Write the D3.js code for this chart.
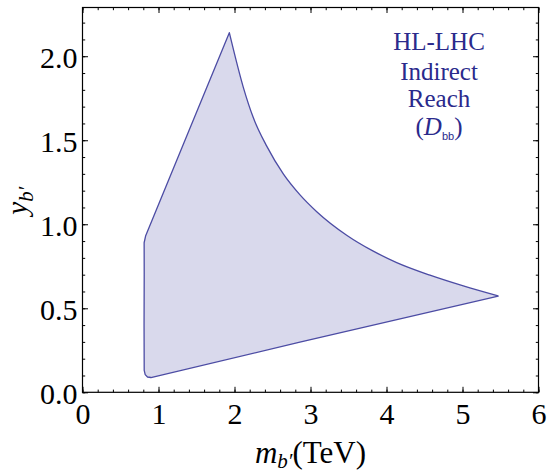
<!DOCTYPE html>
<html>
<head>
<meta charset="utf-8">
<script src="https://cdn.jsdelivr.net/npm/d3@7"></script>
<style>
  body { margin: 0; background: #fff; }
  text { font-family: "Liberation Serif", "Times New Roman", serif; }
</style>
</head>
<body>
<script>
// frame of the plot (pixels inside the 549x474 window)
var margin = {top: 7.5, right: 10.5, bottom: 81.7, left: 82.5},
    width = 549 - margin.left - margin.right,
    height = 474 - margin.top - margin.bottom;

// tick values
var xMajor = [0, 1, 2, 3, 4, 5, 6];
var xMinor = d3.range(0, 6.01, 0.2);
var yMajor = [0, 0.5, 1.0, 1.5, 2.0];
var yMinor = d3.range(0, 2.291, 0.1);

// boundary of the reach region
// lower edge: from the tip at the right to the lower left corner
var lowerEdge = [
  [5.47, 0.573], [2.86, 0.298], [0.90, 0.088], [0.855, 0.091],
  [0.825, 0.105], [0.812, 0.13]
];
// left edge: up the vertical side and the slanted side to the peak
var leftEdge = [
  [0.810, 0.40], [0.812, 0.70], [0.811, 0.89], [0.83, 0.93],
  [1.40, 1.556], [1.932, 2.140]
];
// upper edge: from the peak down to the tip
var upperEdge = [
  [1.932, 2.140], [2.116, 1.815], [2.247, 1.635], [2.424, 1.465],
  [2.642, 1.300], [2.862, 1.175], [3.082, 1.075], [3.476, 0.935],
  [3.826, 0.840], [4.134, 0.772], [4.572, 0.697], [5.011, 0.633],
  [5.47, 0.573]
];

var labelLines = ["HL-LHC", "Indirect", "Reach"];

var x = d3.scaleLinear().domain([0, 6]).range([0, width]);
var y = d3.scaleLinear().domain([0, 2.29]).range([height, 0]);

var svg = d3.select("body").append("svg")
    .attr("width", 549)
    .attr("height", 474)
  .append("g")
    .attr("transform", "translate(" + margin.left + "," + margin.top + ")");

// region
var straight = d3.line()
    .x(function(d) { return x(d[0]); })
    .y(function(d) { return y(d[1]); });
var smooth = d3.line()
    .curve(d3.curveMonotoneX)
    .x(function(d) { return x(d[0]); })
    .y(function(d) { return y(d[1]); });

var d = straight(lowerEdge.concat(leftEdge)) + smooth(upperEdge).replace(/^M/, "L") + "Z";

svg.append("path")
    .attr("d", d)
    .attr("fill", "#d9d9ec")
    .attr("stroke", "#4c4ca4")
    .attr("stroke-width", 1.3)
    .attr("stroke-linejoin", "round");

// axes with inward ticks
function styleAxis(g) {
  g.select(".domain").remove();
  g.selectAll(".tick line").attr("stroke", "#000");
}

svg.append("g")
    .attr("transform", "translate(0," + height + ")")
    .call(d3.axisBottom(x).tickValues(xMinor).tickSize(-2.7).tickFormat(""))
    .call(styleAxis);
svg.append("g")
    .attr("transform", "translate(0," + height + ")")
    .call(d3.axisBottom(x).tickValues(xMajor).tickSize(-5.5).tickPadding(10)
      .tickFormat(d3.format("d")))
    .call(styleAxis)
    .selectAll("text")
      .attr("font-size", "30px")
      .attr("font-family", "Liberation Serif")
      .attr("fill", "#000");

svg.append("g")
    .call(d3.axisTop(x).tickValues(xMinor).tickSize(-2.7).tickFormat(""))
    .call(styleAxis);
svg.append("g")
    .call(d3.axisTop(x).tickValues(xMajor).tickSize(-5.5).tickFormat(""))
    .call(styleAxis);

svg.append("g")
    .call(d3.axisLeft(y).tickValues(yMinor).tickSize(-2.7).tickFormat(""))
    .call(styleAxis);
svg.append("g")
    .call(d3.axisLeft(y).tickValues(yMajor).tickSize(-5.5).tickPadding(5)
      .tickFormat(d3.format(".1f")))
    .call(styleAxis)
    .selectAll("text")
      .attr("font-size", "30px")
      .attr("font-family", "Liberation Serif")
      .attr("fill", "#000")
      .attr("dy", "0.36em");

svg.append("g")
    .attr("transform", "translate(" + width + ",0)")
    .call(d3.axisRight(y).tickValues(yMinor).tickSize(-2.7).tickFormat(""))
    .call(styleAxis);
svg.append("g")
    .attr("transform", "translate(" + width + ",0)")
    .call(d3.axisRight(y).tickValues(yMajor).tickSize(-5.5).tickFormat(""))
    .call(styleAxis);

// frame
svg.append("rect")
    .attr("width", width)
    .attr("height", height)
    .attr("fill", "none")
    .attr("stroke", "#000")
    .attr("stroke-width", 1.2);

// x axis label
var xl = svg.append("text")
    .attr("x", x(3))
    .attr("y", height + 71)
    .attr("text-anchor", "middle")
    .attr("font-size", "31px")
    .attr("fill", "#000");
xl.append("tspan").attr("font-style", "italic").text("m");
xl.append("tspan").attr("font-style", "italic").attr("font-size", "21px").attr("dy", 5).text("b\u2032");
xl.append("tspan").attr("dy", -5).text("(TeV)");

// y axis label
var yl = svg.append("text")
    .attr("transform", "translate(" + (-56) + "," + (y(1.14)) + ") rotate(-90)")
    .attr("text-anchor", "middle")
    .attr("font-size", "29px")
    .attr("fill", "#000");
yl.append("tspan").attr("font-style", "italic").text("y");
yl.append("tspan").attr("font-style", "italic").attr("font-size", "21px").attr("dy", 6).text("b\u2032");

// annotation
var note = svg.append("g")
    .attr("transform", "translate(" + (439 - margin.left) + ",0)")
    .attr("fill", "#2a2a8c");
var baselines = [50, 80, 107];
labelLines.forEach(function(t, i) {
  note.append("text")
      .attr("y", baselines[i] - margin.top)
      .attr("text-anchor", "middle")
      .attr("font-size", "25px")
      .text(t);
});
var dbb = note.append("text")
    .attr("y", 135 - margin.top)
    .attr("text-anchor", "middle")
    .attr("font-size", "25px");
dbb.append("tspan").text("(");
dbb.append("tspan").attr("font-style", "italic").text("D");
dbb.append("tspan")
    .attr("font-family", "Liberation Sans")
    .attr("font-size", "11px")
    .attr("dy", 5)
    .text("bb");
dbb.append("tspan").attr("dy", -5).text(")");
</script>
</body>
</html>
